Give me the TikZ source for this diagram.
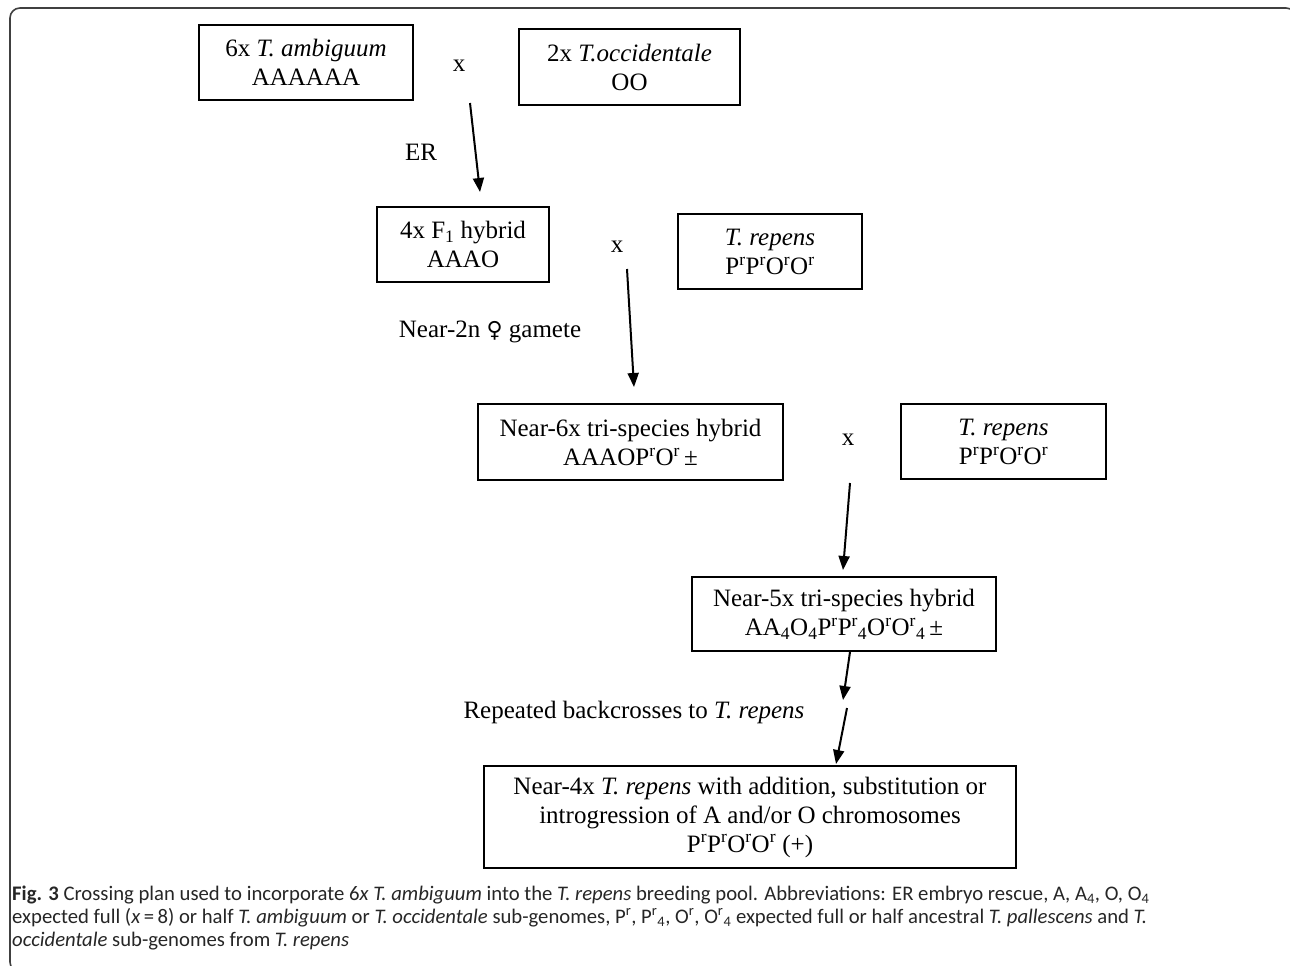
\documentclass[tikz,border=0pt]{standalone}
\usepackage{fontspec}
\setmainfont{Liberation Serif}
\newfontfamily\capfont{Carlito}
\newfontfamily\symfont{DejaVu Serif}
\usetikzlibrary{arrows.meta}
\tikzset{
  bx/.style={draw=black, line width=1.4pt, inner sep=0pt, align=center,
    font=\fontsize{25}{29}\selectfont},
  lbl/.style={inner sep=0pt, font=\fontsize{25}{29}\selectfont},
  arr/.style={line width=2pt, -{Triangle[length=14pt,width=11pt]}},
  capline/.style={anchor=base west, inner sep=0pt, text=black!85,
    font=\capfont\fontsize{20.7}{23}\selectfont},
  frame/.style={draw=black!75, line width=1.6pt, rounded corners=10pt}
}
\newcommand\rr{\textsuperscript{r}}
\begin{document}
\begin{tikzpicture}[x=1pt,y=-1pt]
\useasboundingbox (0,0) rectangle (1290,966);
\draw[frame] (10,8) rectangle (1296,972);

% row 1
\node[bx, minimum width=214pt, minimum height=75pt] (b1) at (306,62.5)
  {6x \textit{T. ambiguum}\\AAAAAA};
\node[lbl] (x1) at (459,66) {x};
\node[bx, minimum width=221pt, minimum height=76pt] (b2) at (629.5,67)
  {2x \textit{T.occidentale}\\OO};
\coordinate (a1s) at (470,103);
\coordinate (a1e) at (480,192);
\draw[arr] (a1s) -- (a1e);
\node[lbl] (er) at (421,152) {ER};

% row 2
\node[bx, minimum width=172pt, minimum height=75pt] (b3) at (463,244.5)
  {4x F\textsubscript{1} hybrid\\AAAO};
\node[lbl] (x2) at (617,247) {x};
\node[bx, minimum width=184pt, minimum height=75pt] (b4) at (770,251.5)
  {\textit{T. repens}\\P\rr P\rr O\rr O\rr};
\node[lbl] (gam) at (490,332) {Near-2n {\symfont\fontsize{22}{25}\selectfont ♀} gamete};
\coordinate (a2s) at (627,269);
\coordinate (a2e) at (634,387);
\draw[arr] (a2s) -- (a2e);

% row 3
\node[bx, minimum width=305pt, minimum height=76pt] (b5) at (630.5,442)
  {Near-6x tri-species hybrid\\AAAOP\rr O\rr\,±};
\node[lbl] (x3) at (848,440) {x};
\node[bx, minimum width=205pt, minimum height=75pt] (b6) at (1003.5,441.5)
  {\textit{T. repens}\\P\rr P\rr O\rr O\rr};
\coordinate (a3s) at (850,483);
\coordinate (a3e) at (843,570);
\draw[arr] (a3s) -- (a3e);

% row 4
\node[bx, minimum width=304pt, minimum height=74pt] (b7) at (844,614)
  {Near-5x tri-species hybrid\\AA\textsubscript{4}O\textsubscript{4}P\rr P\rr\textsubscript{4}O\rr O\rr\textsubscript{4}\,±};
\coordinate (a4s) at (850,652);
\coordinate (a4e) at (843,700);
\draw[arr] (a4s) -- (a4e);
\node[lbl] (rep) at (634,712) {Repeated backcrosses to \textit{T. repens}};
\coordinate (a5s) at (847,708);
\coordinate (a5e) at (836,764);
\draw[arr] (a5s) -- (a5e);

% row 5
\node[bx, minimum width=532pt, minimum height=102pt] (b8) at (750,817)
  {Near-4x \textit{T. repens} with addition, substitution or\\introgression of A and/or O chromosomes\\P\rr P\rr O\rr O\rr\ (+)};

% caption
\node[capline] (c1) at (12,900) {\textbf{Fig. 3} Crossing plan used to incorporate 6\textit{x T. ambiguum} into the \textit{T. repens} breeding pool. Abbreviations: ER embryo rescue, A, A\textsubscript{4}, O, O\textsubscript{4}};
\node[capline] (c2) at (12,923) {expected full (\textit{x}\,=\,8) or half \textit{T. ambiguum} or \textit{T. occidentale} sub-genomes, P\rr, P\rr\textsubscript{4}, O\rr, O\rr\textsubscript{4} expected full or half ancestral \textit{T. pallescens} and \textit{T.}};
\node[capline] (c3) at (12,946) {\textit{occidentale} sub-genomes from \textit{T. repens}};
\end{tikzpicture}
\end{document}
